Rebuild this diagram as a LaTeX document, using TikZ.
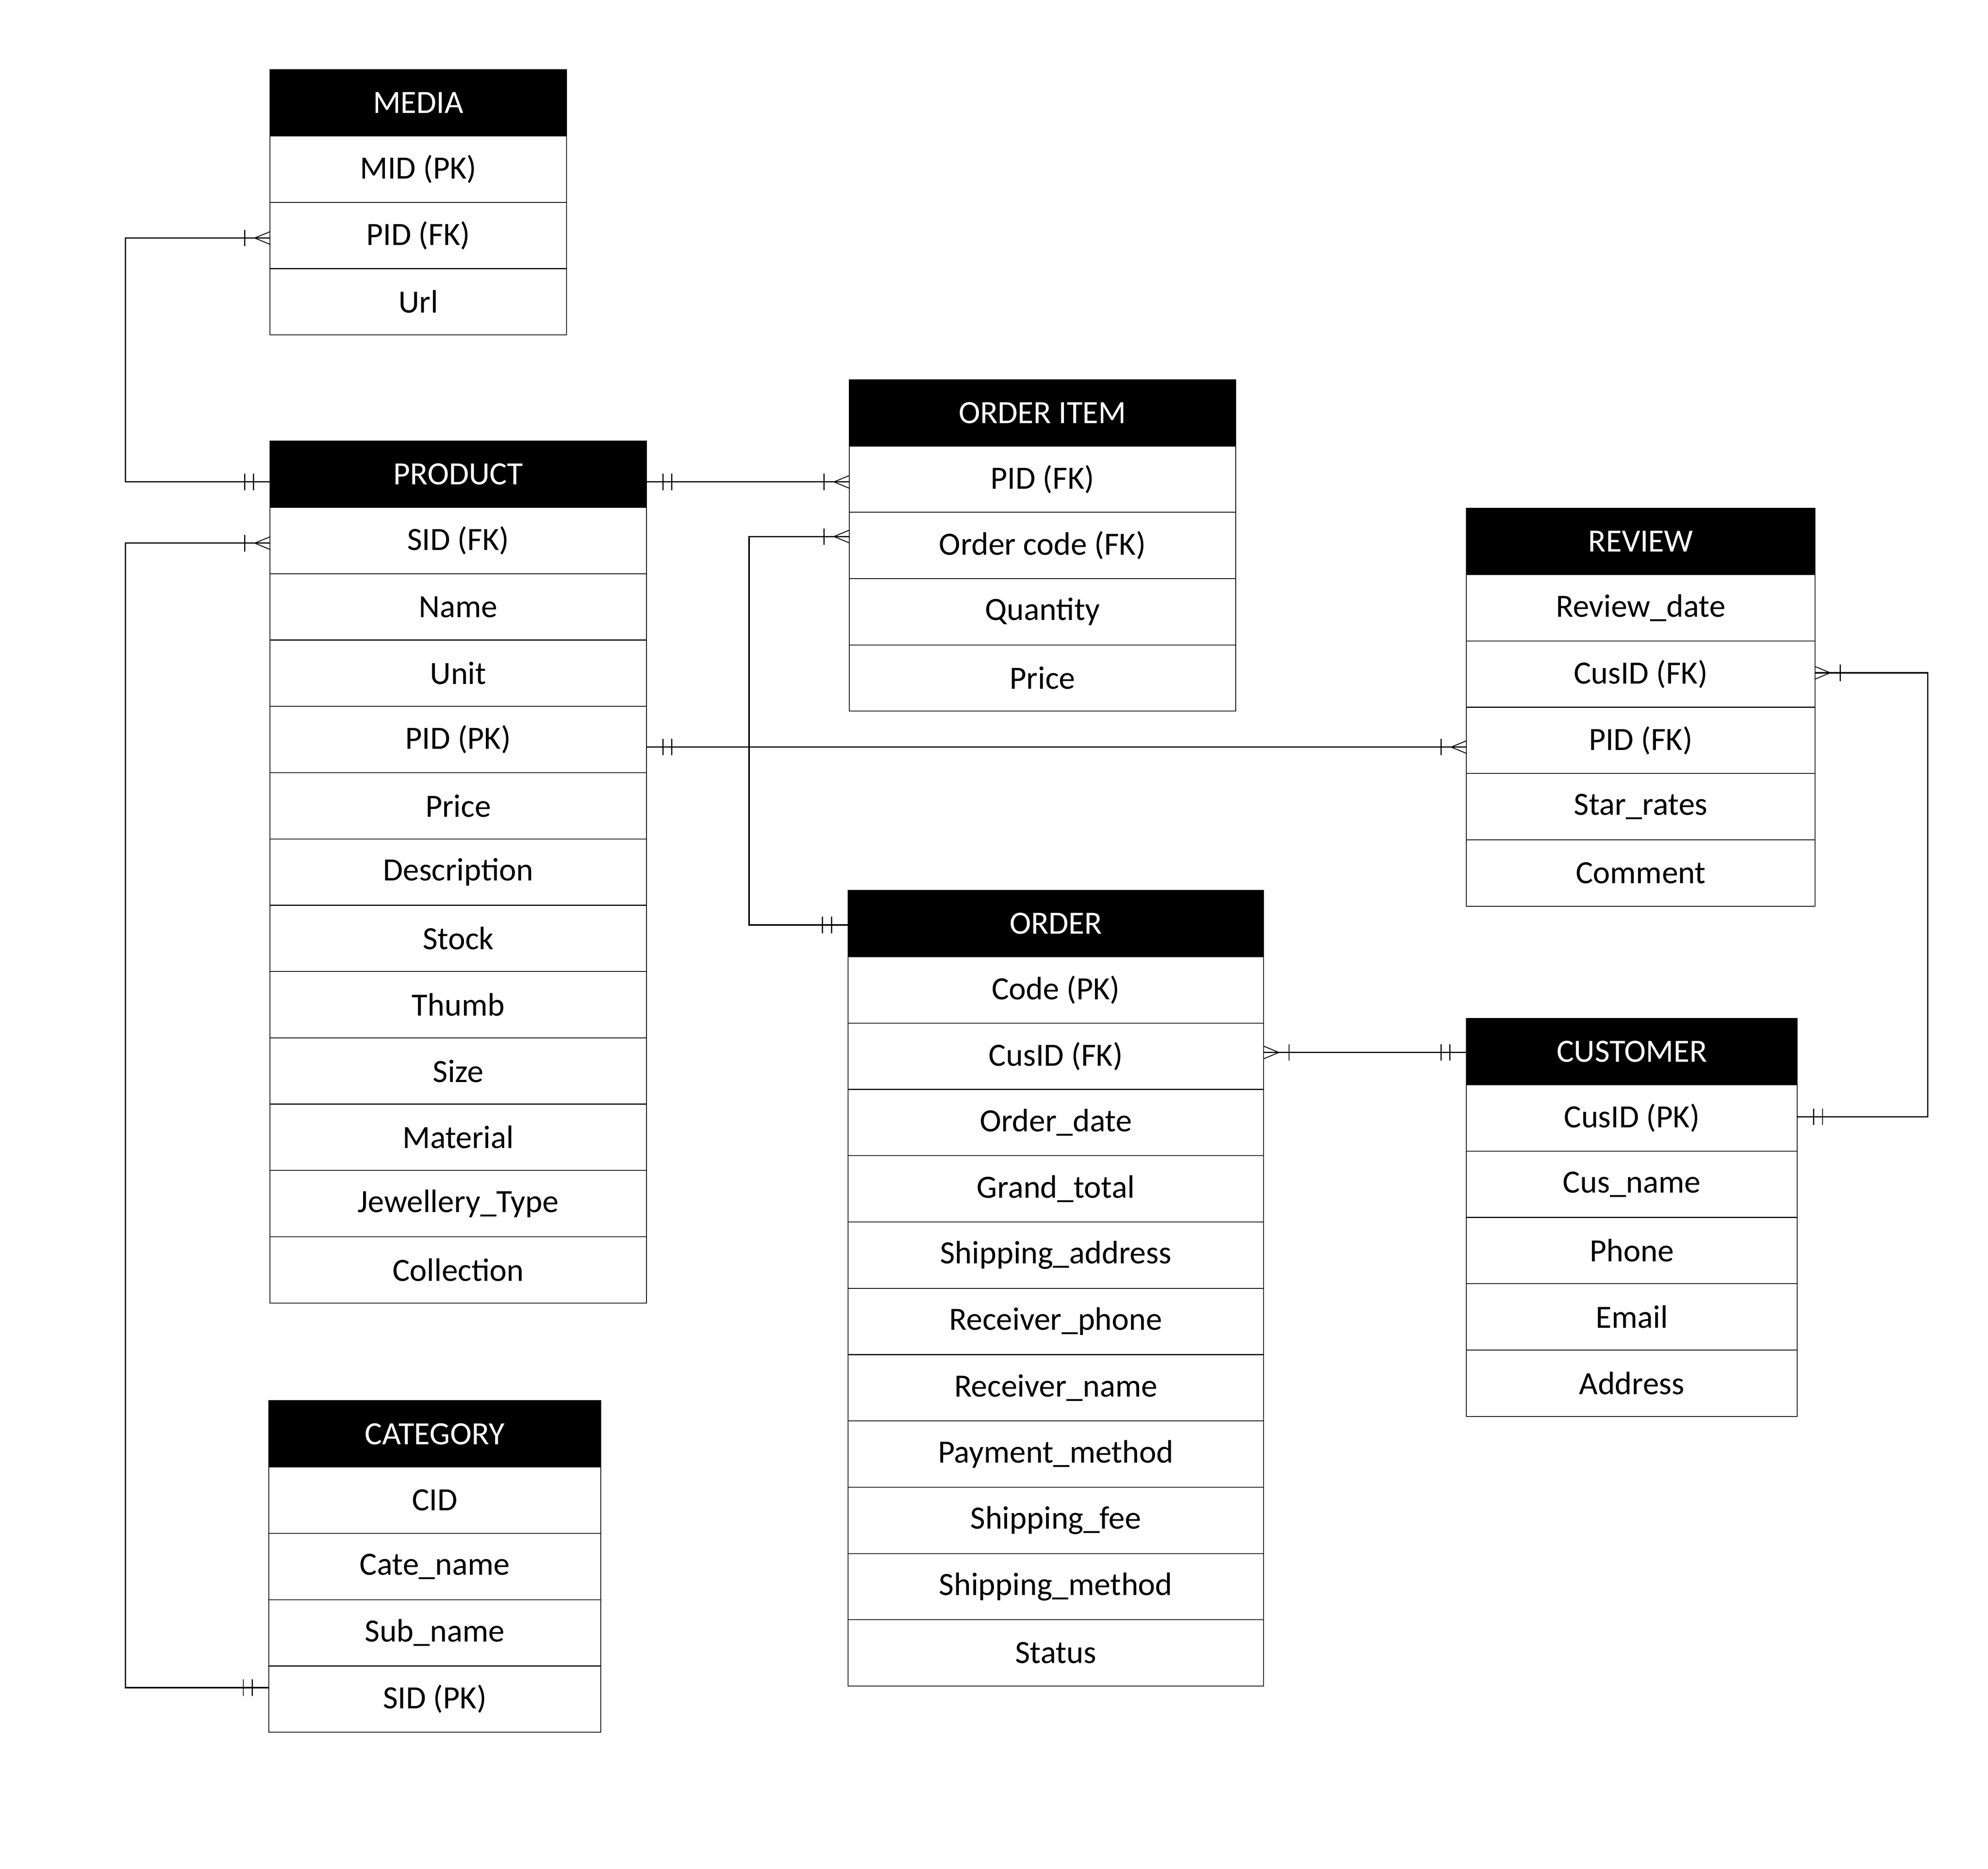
\documentclass[tikz,border=0pt]{standalone}
\usepackage{fontspec}
\setmainfont{Carlito}
\begin{document}
\begin{tikzpicture}[x=1pt,y=-1pt]
\tikzset{
  boxfont/.style={font=\fontsize{25.6}{30}\selectfont},
  hdr/.style={draw=black, fill=black, text=white, inner sep=0pt, outer sep=0pt,
    minimum height=52.3pt, line width=0.7pt, boxfont},
  rowbox/.style={draw=black, fill=white, text=black, inner sep=0pt, outer sep=0pt,
    minimum height=52.3pt, line width=0.7pt, boxfont},
  conn/.style={line width=1pt, draw=black},
  tickline/.style={line width=0.9pt, draw=black},
  crowline/.style={line width=0.7pt, draw=black},
  erMany/.pic={\draw[tickline] (-20,-6.5) -- (-20,6.5);
               \draw[crowline] (0,-5) -- (-12,0) -- (0,5);},
  erOne/.pic={\draw[tickline] (-13,-6.5) -- (-13,6.5);
              \draw[tickline] (-20,-6.5) -- (-20,6.5);}
}
\newcommand\erent[6]{%
  \node[hdr, minimum width=#4pt, anchor=north west] (#1-0) at (#2,#3) {#5};
  \foreach \t [count=\i from 1] in {#6}{%
    \pgfmathtruncatemacro\ip{\i-1}%
    \node[rowbox, minimum width=#4pt, anchor=north] (#1-\i) at (#1-\ip.south) {\t};
  }%
}
\useasboundingbox (0,0) rectangle (1568.5,1474.2);

\erent{media}{213}{55}{234}{MEDIA}{MID (PK),PID (FK),Url}
\erent{product}{213}{348}{297}{PRODUCT}{SID (FK),Name,Unit,PID (PK),Price,Description,Stock,Thumb,Size,Material,Jewellery\_Type,Collection}
\erent{orderitem}{670}{299.5}{305}{ORDER ITEM}{PID (FK),Order code (FK),Quantity,Price}
\erent{review}{1157}{401}{275}{REVIEW}{Review\_date,CusID (FK),PID (FK),Star\_rates,Comment}
\erent{order}{669}{702.5}{328}{ORDER}{Code (PK),CusID (FK),Order\_date,Grand\_total,Shipping\_address,Receiver\_phone,Receiver\_name,Payment\_method,Shipping\_fee,Shipping\_method,Status}
\erent{customer}{1157}{803.5}{261}{CUSTOMER}{CusID (PK),Cus\_name,Phone,Email,Address}
\erent{category}{212}{1105}{262}{CATEGORY}{CID,Cate\_name,Sub\_name,SID (PK)}

% MEDIA -- PRODUCT
\coordinate (c1a) at ([yshift=-2pt]media-2.west);
\coordinate (c1b) at ([yshift=-6pt]product-0.west);
\draw[conn] (c1a) -- ++(-114,0) |- (c1b);
\pic at (c1a) {erMany};
\pic at (c1b) {erOne};

% PRODUCT -- CATEGORY
\coordinate (c2a) at ([yshift=-2pt]product-1.west);
\coordinate (c2b) at ([yshift=9pt]category-4.west);
\draw[conn] (c2a) -- ++(-114,0) |- (c2b);
\pic at (c2a) {erMany};
\pic at (c2b) {erOne};

% PRODUCT -- ORDER ITEM
\coordinate (c3a) at ([yshift=-6pt]product-0.east);
\coordinate (c3b) at (c3a -| orderitem-1.west);
\draw[conn] (c3a) -- (c3b);
\pic[rotate=180] at (c3a) {erOne};
\pic at (c3b) {erMany};

% ORDER ITEM -- ORDER
\coordinate (c4a) at ([yshift=7pt]orderitem-2.west);
\coordinate (c4b) at ([yshift=-1pt]order-0.west);
\draw[conn] (c4a) -- ++(-79,0) |- (c4b);
\pic at (c4a) {erMany};
\pic at (c4b) {erOne};

% PRODUCT -- REVIEW
\coordinate (c5a) at ([yshift=-6pt]product-4.east);
\coordinate (c5b) at (c5a -| review-3.west);
\draw[conn] (c5a) -- (c5b);
\pic[rotate=180] at (c5a) {erOne};
\pic at (c5b) {erMany};

% ORDER -- CUSTOMER
\coordinate (c6a) at ([yshift=3pt]order-2.east);
\coordinate (c6b) at (c6a -| customer-0.west);
\draw[conn] (c6a) -- (c6b);
\pic[rotate=180] at (c6a) {erMany};
\pic at (c6b) {erOne};

% REVIEW -- CUSTOMER
\coordinate (c7a) at ([yshift=1pt]review-2.east);
\coordinate (c7b) at ([yshift=1pt]customer-1.east);
\draw[conn] (c7a) -- ++(89,0) |- (c7b);
\pic[rotate=180] at (c7a) {erMany};
\pic[rotate=180] at (c7b) {erOne};
\end{tikzpicture}
\end{document}
